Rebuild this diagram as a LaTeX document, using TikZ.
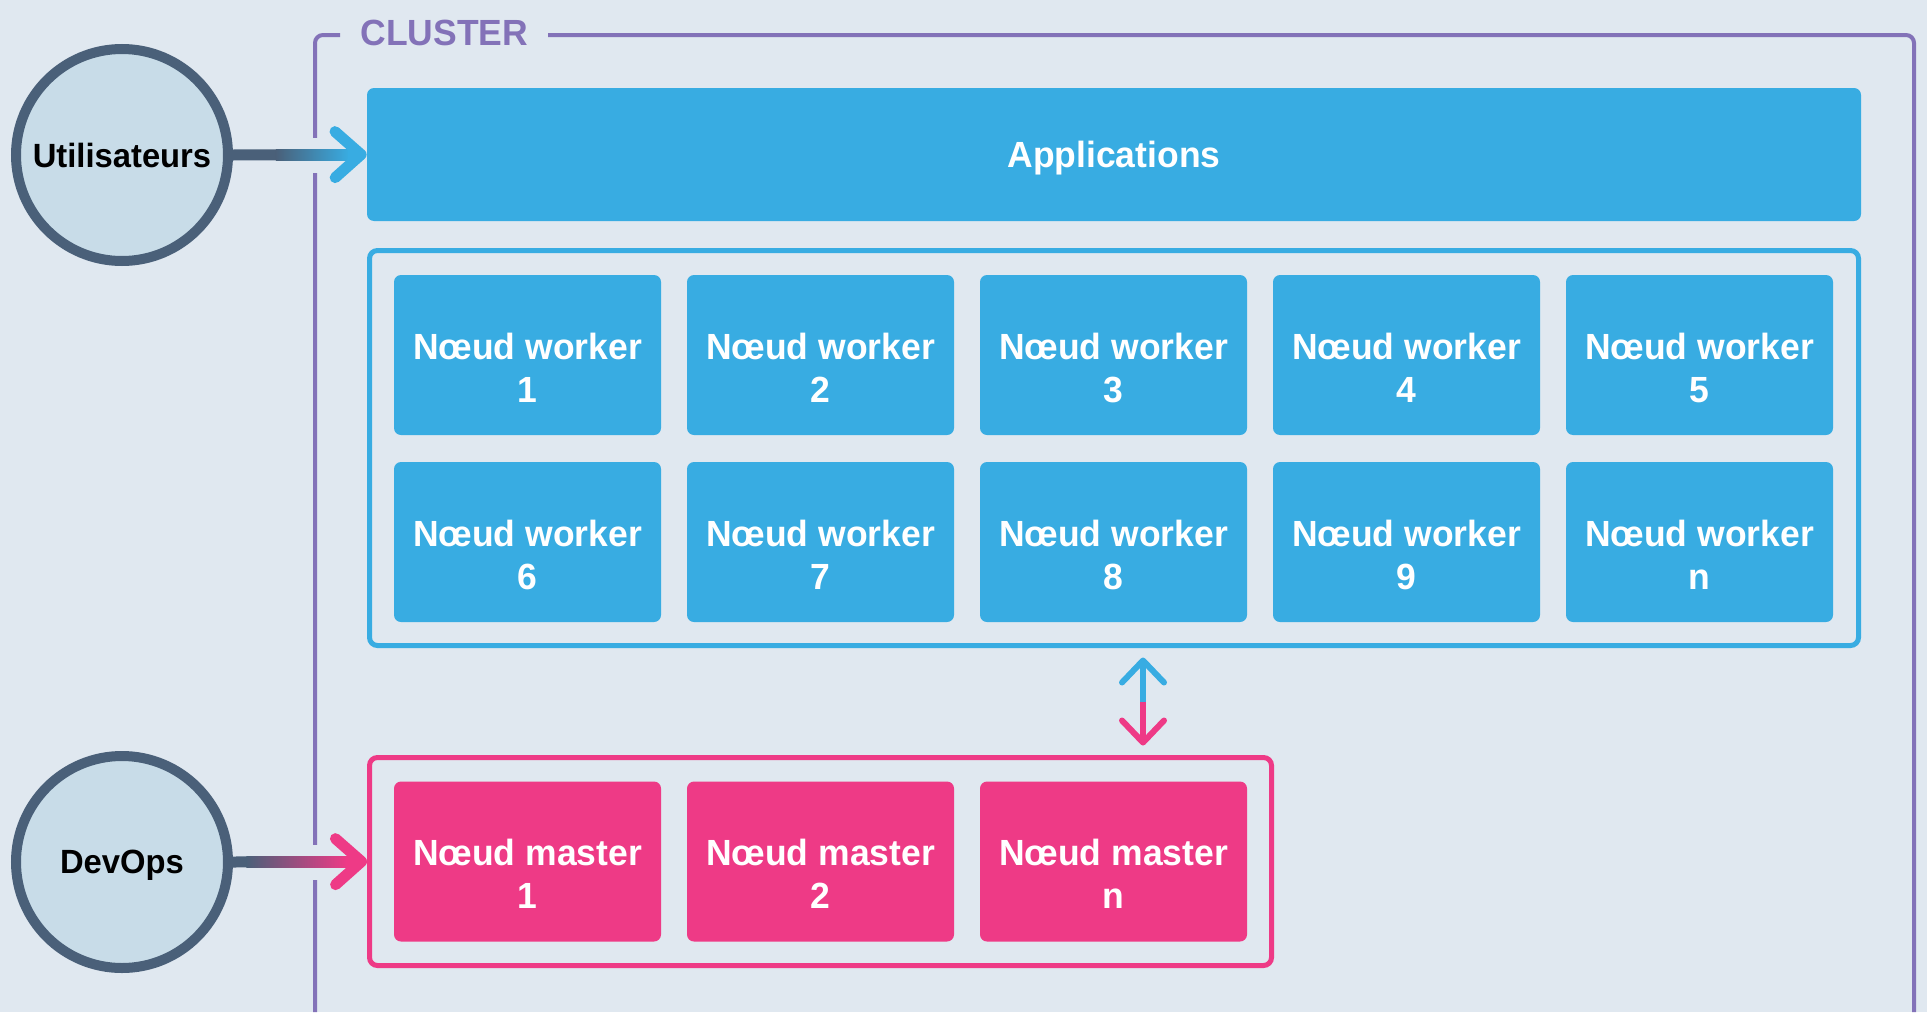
\documentclass[tikz,border=0pt]{standalone}
\usepackage{fontspec}
\newfontfamily\diagfont{Liberation Sans}[FakeStretch=0.975]
\usetikzlibrary{arrows.meta,calc}

\definecolor{bgc}{HTML}{E0E8F0}
\definecolor{nblue}{HTML}{38ACE2}
\definecolor{npink}{HTML}{EE3A86}
\definecolor{fpurple}{HTML}{8372B8}
\definecolor{slate}{HTML}{4A6079}
\definecolor{actorfill}{HTML}{C8DCE8}

% two centred lines, baseline on the first one
\newcommand\twoline[2]{\vtop{\hbox to 0pt{\hss#1\hss}\hbox to 0pt{\hss#2\hss}}}

\begin{document}
\begin{tikzpicture}[x=0.5pt,y=-0.5pt,
  lblfont/.style={font=\diagfont\bfseries\fontsize{18.2pt}{21.5pt}\selectfont},
  box/.style={lblfont, rounded corners=3.5pt, minimum width=133.5pt, minimum height=80pt,
    inner sep=0pt, text=white, text height=12pt, text depth=8pt},
  worker/.style={box, fill=nblue},
  master/.style={box, fill=npink},
  appbox/.style={lblfont, fill=nblue, rounded corners=3.5pt, minimum width=747pt,
    minimum height=66.5pt, inner sep=0pt, text=white, text depth=0pt},
  group/.style={draw, line width=2.5pt, rounded corners=4pt, inner sep=0pt},
  actor/.style={circle, draw=slate, fill=actorfill, line width=5pt, minimum size=106pt,
    inner sep=0pt, text=black, text depth=0pt,
    font=\diagfont\bfseries\fontsize{16.8pt}{20pt}\selectfont},
  frame/.style={draw=fpurple, line width=2pt, rounded corners=4pt},
  link/.style={line width=5.5pt},
  bigtip/.style={-{Straight Barb[length=13pt,width=23pt,round]}},
  smalltip/.style={-{Straight Barb[length=11pt,width=21pt,round]}}
]
% canvas
\useasboundingbox (0,0) rectangle (1927,1012);
\fill[bgc] (0,0) rectangle (1927,1012);

% cluster frame, open at the bottom, broken around the title
\draw[frame] (340,35) -- (315,35) -- (315,1012);
\draw[frame] (548,35) -- (1914,35) -- (1914,1012);
\node[anchor=base west, inner sep=0pt, text=fpurple, lblfont] (clustertitle) at (360,46) {CLUSTER};
\coordinate (fl) at (315,0);

% actors
\node[actor] (users) at (122,155) {Utilisateurs};
\node[actor] (devops) at (122,862) {DevOps};

% applications layer
\node[appbox] (apps) at (1114,154.5) {Applications};

% worker nodes
\node[group, draw=nblue, minimum width=744.5pt, minimum height=197.5pt] (workers) at (1114,448) {};
\foreach \i/\x/\y/\n in {1/527.5/355/1, 2/820.5/355/2, 3/1113.5/355/3, 4/1406.5/355/4, 5/1699.5/355/5,
                         6/527.5/542/6, 7/820.5/542/7, 8/1113.5/542/8, 9/1406.5/542/9, 10/1699.5/542/n}
  \node[worker] (w\i) at (\x,\y) {\twoline{Nœud worker}{\n}};

% master nodes
\node[group, draw=npink, minimum width=451pt, minimum height=104pt] (masters) at (820.5,861.5) {};
\foreach \i/\x/\n in {1/527.5/1, 2/820.5/2, 3/1113.5/n}
  \node[master] (m\i) at (\x,861.5) {\twoline{Nœud master}{\n}};

% gaps in the frame where the connectors cross it
\fill[bgc] ($(users.east -| fl)+(-5,-17.5)$) rectangle ($(users.east -| fl)+(5,17.5)$);
\fill[bgc] ($(devops.east -| fl)+(-5,-17.5)$) rectangle ($(devops.east -| fl)+(5,17.5)$);

% users -> applications
\draw[link, slate] (users.east) -- ($(users.east)!0.33!(apps.west)$);
\shade[left color=slate, right color=nblue]
  ($(users.east)!0.32!(apps.west)+(0,-5.5)$) rectangle ($(users.east)!0.87!(apps.west)+(0,5.5)$);
\draw[link, nblue, bigtip] ($(users.east)!0.86!(apps.west)$) -- (apps.west);

% devops -> masters
\draw[link, slate] (devops.east) -- ($(devops.east)!0.11!(masters.west)$);
\shade[left color=slate, right color=npink]
  ($(devops.east)!0.10!(masters.west)+(0,-5.5)$) rectangle ($(devops.east)!0.85!(masters.west)+(0,5.5)$);
\draw[link, npink, bigtip] ($(devops.east)!0.84!(masters.west)$) -- (masters.west);

% workers <-> masters
\coordinate (dx) at (1143,0);
\coordinate (dtop) at ($(workers.south -| dx)+(0,9.5)$);
\coordinate (dbot) at ($(masters.north -| dx)+(0,-9.5)$);
\draw[line width=3pt, nblue, smalltip] ($(dtop)!0.5!(dbot)$) -- (dtop);
\draw[line width=3pt, npink, smalltip] ($(dtop)!0.5!(dbot)$) -- (dbot);
\end{tikzpicture}
\end{document}
